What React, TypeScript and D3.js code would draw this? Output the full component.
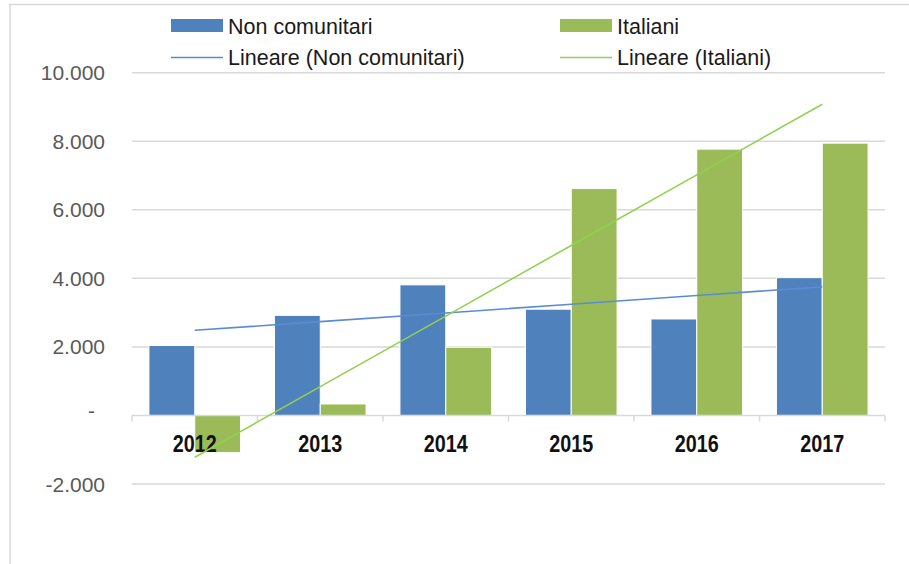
import React, { useEffect, useRef } from 'react';
import * as d3 from 'd3';

const years = ['2012', '2013', '2014', '2015', '2016', '2017'];
const nonComunitari = [2040, 2920, 3810, 3100, 2815, 4020];
const italiani = [-1085, 335, 1990, 6620, 7770, 7945];
const seriesNames = ['Non comunitari', 'Italiani'];
const yTicks = [-2000, 0, 2000, 4000, 6000, 8000, 10000];

const W = 909;
const H = 564;
const BLUE = '#4f81bd';
const GREEN = '#9bbb59';
const BLUE_TREND = '#5b8cd3';
const GREEN_TREND = '#92d050';

// least squares line over x = 1..n, like Excel's linear trendline
function linearFit(vals: number[]) {
  const n = vals.length;
  const mx = (n + 1) / 2;
  const my = d3.mean(vals) as number;
  let num = 0;
  let den = 0;
  vals.forEach((v, i) => {
    num += (i + 1 - mx) * (v - my);
    den += (i + 1 - mx) * (i + 1 - mx);
  });
  const slope = num / den;
  return vals.map((_, i) => my + slope * (i + 1 - mx));
}

export default function App() {
  const svgRef = useRef<SVGSVGElement>(null);

  useEffect(() => {
    const svg = d3.select(svgRef.current);
    svg.selectAll('*').remove();

    // chart frame (only top and left edges are visible)
    svg.append('line').attr('x1', 9).attr('x2', W).attr('y1', 4.5).attr('y2', 4.5)
      .attr('stroke', '#d9d9d9').attr('stroke-width', 1.5);
    svg.append('line').attr('x1', 10).attr('x2', 10).attr('y1', 4).attr('y2', H)
      .attr('stroke', '#d9d9d9').attr('stroke-width', 1.5);

    const x = d3.scaleBand().domain(years).range([132, 885]).padding(0);
    const xInner = d3.scaleBand().domain(seriesNames).range([0, x.bandwidth()]).paddingOuter(0.37);
    const y = d3.scaleLinear().domain([-2000, 10000]).range([484, 72.7]);

    // gridlines
    svg.append('g').selectAll('line').data(yTicks.filter(t => t !== 0)).enter().append('line')
      .attr('x1', 132).attr('x2', 885)
      .attr('y1', d => y(d)).attr('y2', d => y(d))
      .attr('stroke', '#d9d9d9').attr('stroke-width', 1.5);

    // y labels
    const fmt = d3.formatLocale({
      decimal: ',', thousands: '.', grouping: [3], currency: ['', ''], minus: '-',
    }).format(',');
    svg.append('g').selectAll('text').data(yTicks).enter().append('text')
      .attr('x', d => (d === 0 ? 95 : 105))
      .attr('y', d => y(d))
      .attr('dy', d => (d === 0 ? '0.1em' : '0.36em'))
      .attr('text-anchor', 'end')
      .attr('font-family', '"Liberation Sans", Arial, sans-serif')
      .attr('font-size', 21)
      .attr('fill', '#595959')
      .text(d => (d === 0 ? '-' : fmt(d)));

    // bars
    const data = [nonComunitari, italiani];
    const colors = [BLUE, GREEN];
    seriesNames.forEach((s, si) => {
      svg.append('g').selectAll('rect').data(data[si]).enter().append('rect')
        .attr('x', (d, i) => (x(years[i]) as number) + (xInner(s) as number))
        .attr('width', xInner.bandwidth())
        .attr('y', d => y(Math.max(0, d)))
        .attr('height', d => Math.abs(y(d) - y(0)))
        .attr('fill', colors[si])
        .attr('stroke', '#fff')
        .attr('stroke-width', 1);
    });

    // x axis line and ticks
    const axis = svg.append('g');
    axis.append('line').attr('x1', 132).attr('x2', 885).attr('y1', y(0)).attr('y2', y(0))
      .attr('stroke', '#d9d9d9').attr('stroke-width', 1.5);
    axis.selectAll('line.tick').data([...years.map(c => x(c) as number), 885]).enter().append('line')
      .attr('class', 'tick')
      .attr('x1', d => d).attr('x2', d => d)
      .attr('y1', y(0)).attr('y2', y(0) + 6)
      .attr('stroke', '#d9d9d9').attr('stroke-width', 1.5);
    // year labels are a narrow bold face; squeeze horizontally
    axis.selectAll('text').data(years).enter().append('text')
      .attr('transform', d => `translate(${(x(d) as number) + x.bandwidth() / 2},452) scale(0.86,1)`)
      .attr('text-anchor', 'middle')
      .attr('font-family', '"Liberation Sans", Arial, sans-serif')
      .attr('font-weight', 'bold')
      .attr('font-size', 23)
      .attr('fill', '#111')
      .text(d => d);

    // trend lines
    const line = d3.line<number>()
      .x((d, i) => (x(years[i]) as number) + x.bandwidth() / 2)
      .y(d => y(d));
    svg.append('path').attr('d', line(linearFit(nonComunitari)))
      .attr('fill', 'none').attr('stroke', BLUE_TREND).attr('stroke-width', 1.6);
    svg.append('path').attr('d', line(linearFit(italiani)))
      .attr('fill', 'none').attr('stroke', GREEN_TREND).attr('stroke-width', 1.6);

    // legend
    const legend = [
      { label: 'Non comunitari', color: BLUE, kind: 'rect', x: 171, y: 26 },
      { label: 'Italiani', color: GREEN, kind: 'rect', x: 560, y: 26 },
      { label: 'Lineare (Non comunitari)', color: BLUE_TREND, kind: 'line', x: 171, y: 57 },
      { label: 'Lineare (Italiani)', color: GREEN_TREND, kind: 'line', x: 560, y: 57 },
    ];
    const lg = svg.append('g').selectAll('g').data(legend).enter().append('g')
      .attr('transform', d => `translate(${d.x},${d.y})`);
    lg.filter(d => d.kind === 'rect').append('rect')
      .attr('x', 0).attr('y', -7).attr('width', 52).attr('height', 13).attr('fill', d => d.color);
    lg.filter(d => d.kind === 'line').append('line')
      .attr('x1', 0).attr('x2', 52).attr('y1', 0.5).attr('y2', 0.5)
      .attr('stroke', d => d.color).attr('stroke-width', 1.6);
    lg.append('text')
      .attr('x', 57).attr('y', 0).attr('dy', '0.36em')
      .attr('font-family', '"Liberation Sans", Arial, sans-serif')
      .attr('font-size', 21.5)
      .attr('fill', '#1a1a1a')
      .text(d => d.label);
  }, []);

  return (
    <svg ref={svgRef} width={W} height={H}
      style={{ position: 'absolute', left: 0, top: 0, background: '#fff' }} />
  );
}
